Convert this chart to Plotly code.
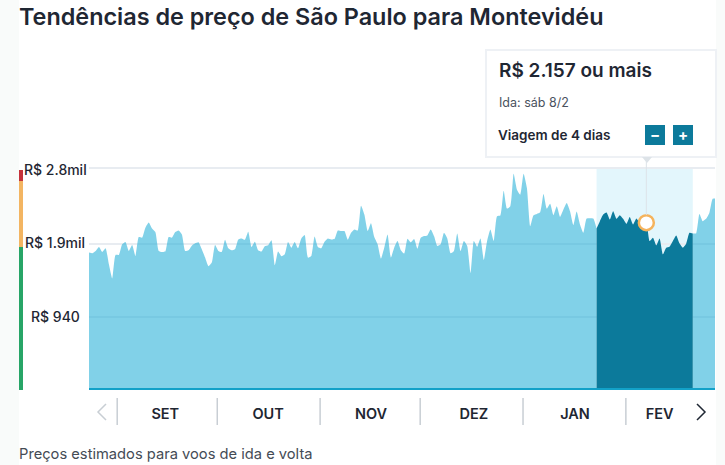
import pandas as pd
import plotly.graph_objects as go

W, H = 725, 465
L, R, T, B = 89, 10, 166, 76

prices = [
    1769, 1760, 1790, 1842, 1777, 1825, 1618, 1434, 1739, 1739, 1876, 1906, 1790, 1867, 1726, 1970,
    1962, 2091, 2159, 2082, 2035, 1790, 1777, 1782, 1970, 1962, 2035, 2056, 2005, 1790, 1799, 1859,
    1889, 1902, 1812, 1704, 1593, 1640, 1867, 1790, 1777, 1936, 1825, 1799, 1812, 1940, 1953,
    1936, 2039, 1842, 1910, 1799, 1782, 1850, 1863, 1928, 1606, 1782, 1722, 1747, 1906, 1833, 1906,
    1825, 1953, 1996, 1704, 1726, 1979, 1842, 1825, 1910, 1953, 1940, 1945, 2056, 2048, 2048, 1936,
    2026, 2069, 2056, 2378, 2262, 2048, 2151, 1970, 1876, 1691, 1833, 2005, 1704, 1833, 1919, 1799,
    1756, 1949, 1902, 1945, 1820, 1962, 1983, 1992, 2069, 1983, 1855, 1876, 2026, 1953, 1760, 1790,
    2018, 1790, 1919, 1855, 1503, 1919, 1846, 1953,
    1674, 1919, 2069, 1919, 2241, 2250, 2571, 2340, 2370, 2790, 2584, 2520, 2790, 2606, 2112, 2254,
    2271, 2292, 2529, 2340, 2404, 2254, 2370, 2232, 2327, 2413, 2305, 2125, 2301, 2134, 2026, 2211,
    2215, 2211, 2082, 2177, 2262, 2288, 2198, 2305, 2207, 2254, 2207, 2142, 2232, 2134, 2211, 2155,
    2155, 2157, 1919, 1962, 1863, 1953, 1747, 1833, 1846, 1919, 1992, 1889, 1833, 1885, 2026, 2018,
    2018, 2271, 2177, 2207, 2284, 2468, 2468,
]
dates = pd.date_range("2024-08-24", periods=len(prices), freq="D")

band_start, band_end, selected = 153, 182, 168

grid_vals = [940, 1880, 2866]
grid_text = ["R$ 940", "R$ 1.9mil", "R$ 2.8mil"]
month_labels = ["SET", "OUT", "NOV", "DEZ", "JAN", "FEV"]
month_centers = ["2024-09-16", "2024-10-17", "2024-11-17", "2024-12-18", "2025-01-17 12:00", "2025-02-12"]
month_seps = ["2024-09-01 12:00", "2024-10-01 16:00", "2024-11-01 16:00",
              "2024-12-01 20:00", "2025-01-01 20:00", "2025-02-01 20:00"]

TEXT = "#1f2733"
FONT = "Inter"


def px(x):
    return x / (W - L - R) - L / (W - L - R)


def py(y):
    return (H - B - y) / (H - T - B)


def box(x0, y0, x1, y1, **kw):
    return dict(type="rect", xref="paper", yref="paper", x0=px(x0), x1=px(x1), y0=py(y0), y1=py(y1), **kw)


def path(points, **kw):
    d = "M" + " L".join(f"{px(a):.5f},{py(b):.5f}" for a, b in points)
    return dict(type="path", xref="paper", yref="paper", path=d, **kw)


def label(x, y, text, size, color=TEXT, weight=400, anchor="left", family=FONT):
    return dict(xref="paper", yref="paper", x=px(x), y=py(y), text=text, showarrow=False, xanchor=anchor,
                yanchor="middle", font=dict(family=family, size=size, color=color, weight=weight))


fig = go.Figure()
light = "rgba(45,178,217,0.6)"
fig.add_trace(go.Scatter(x=dates[:band_start + 1], y=prices[:band_start + 1], mode="lines", fill="tozeroy",
                         fillcolor=light, line=dict(width=0, shape="spline", smoothing=0.5)))
fig.add_trace(go.Scatter(x=dates[band_end:], y=prices[band_end:], mode="lines", fill="tozeroy",
                         fillcolor=light, line=dict(width=0, shape="spline", smoothing=0.5)))
fig.add_trace(go.Scatter(x=dates[band_start:band_end + 1], y=prices[band_start:band_end + 1], mode="lines",
                         fill="tozeroy", fillcolor="#0c7a9b", line=dict(width=0, shape="spline", smoothing=0.5)))
fig.add_trace(go.Scatter(x=[dates[selected]], y=[prices[selected]], mode="markers",
                         marker=dict(size=15, color="white", line=dict(color="#f5b35c", width=2.5))))

shapes = [
    # page edges
    box(0, 0, 19, H, fillcolor="#f9fbfa", line_width=0, layer="below"),
    box(716, 0, W, H, fillcolor="#f9fbfa", line_width=0, layer="below"),
    # selected window
    dict(type="rect", xref="x", yref="paper", x0=dates[band_start], x1=dates[band_end], y0=0, y1=py(168),
         fillcolor="#e3f6fc", line_width=0, layer="below"),
    # price scale bar
    box(19, 170, 23, 181, fillcolor="#c5323a", line_width=0),
    box(19, 181, 23, 247, fillcolor="#f3b562", line_width=0),
    box(19, 247, 23, 390, fillcolor="#27a567", line_width=0),
    # baseline
    box(89, 388, 715, 390, fillcolor="#12a1c8", line_width=0),
    # pointer from the tooltip
    dict(type="line", xref="x", yref="paper", x0=dates[selected], x1=dates[selected], y0=py(157), y1=py(215),
         line=dict(color="#dde3e8", width=1)),
    # tooltip
    box(486, 50, 716, 157, fillcolor="white", line=dict(color="#eef1f5", width=2)),
    path([(642, 157), (652, 157), (647, 163)], fillcolor="#dde3e8", line_width=0),
    box(645, 125, 665, 145, fillcolor="#0c7a9b", line_width=0),
    box(673, 125, 693, 145, fillcolor="#0c7a9b", line_width=0),
    # pager arrows
    path([(106, 404), (98, 412), (106, 420)], line=dict(color="#c8ced4", width=1.5)),
    path([(697, 404), (705, 412), (697, 420)], line=dict(color="#1f2733", width=1.5)),
]
for sep in month_seps:
    shapes.append(dict(type="line", xref="x", yref="paper", x0=sep, x1=sep, y0=py(398), y1=py(425),
                       line=dict(color="#c8ced4", width=1.5)))

annotations = [
    label(17, 454, "Preços estimados para voos de ida e volta", 14.7, color="#444b55"),
    label(497, 70, "R$ 2.157 ou mais", 19, weight=600),
    label(497, 102, "Ida: sáb 8/2", 12.5, color="#4a525e"),
    label(496, 135, "Viagem de 4 dias", 13.5, weight=600),
    label(655, 134.5, "−", 15, color="white", weight=700, anchor="center"),
    label(683, 134.5, "+", 15, color="white", weight=700, anchor="center"),
]
for txt, y in zip(grid_text, [316, 242.5, 169]):
    annotations.append(label(55, y, txt, 14, weight=500, anchor="center"))

fig.update_layout(
    width=W, height=H, margin=dict(l=L, r=R, t=T, b=B), paper_bgcolor="white", plot_bgcolor="rgba(0,0,0,0)",
    showlegend=False, hovermode=False, shapes=shapes, annotations=annotations,
    title=dict(text="Tendências de preço de São Paulo para Montevidéu", x=19 / W, xanchor="left", y=1 - 17 / H,
               yanchor="middle", font=dict(family=FONT, size=23.4, color=TEXT, weight=600)),
    xaxis=dict(range=[dates[0], dates[0] + pd.Timedelta(days=188.7)], tickmode="array", tickvals=month_centers,
               ticktext=month_labels, showgrid=False, zeroline=False, ticks="", ticklabelstandoff=14,
               tickfont=dict(family=FONT, size=14.5, color=TEXT, weight=600)),
    yaxis=dict(range=[0, 2892], tickmode="array", tickvals=grid_vals, showticklabels=False, gridcolor="#e8ecf1",
               gridwidth=1.5, zeroline=False, ticks=""),
)
# browser default body margin would shift the chart by 8px
fig.write_html("out.html", config={"displayModeBar": False},
               post_script="document.body.style.margin='0';document.body.style.overflow='hidden';")
